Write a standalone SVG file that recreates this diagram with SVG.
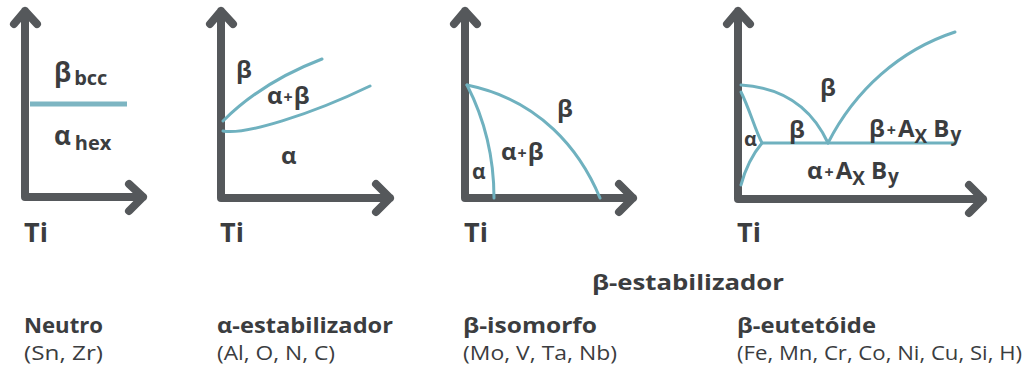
<svg xmlns="http://www.w3.org/2000/svg" width="1033" height="374" viewBox="0 0 1033 374">
<style>
.ax{fill:none;stroke:#55585b;stroke-width:8;stroke-linecap:round;stroke-linejoin:round}
.ln{fill:none;stroke:#6fb1bf;stroke-width:3;stroke-linecap:round}
.t{font-family:"Open Sans","Noto Sans",sans-serif;font-weight:bold;fill:#3b3d3f}
.lb{font-size:24px}
.ti{font-size:27px}
.n{font-family:"Open Sans","Noto Sans",sans-serif;font-size:20px;fill:#3b3d3f}
.h{font-size:21px}
.pl{font-size:16px}
.sb{font-size:19px}
</style>
<rect width="1033" height="374" fill="#ffffff"/>
<g id="panel-neutro">
<path class="ax" d="M25,197 V11 M14,24 L25,11 L37,24 M25,197 H143 M129,184 L143,197 L129,211"/>
<path d="M30,104 H127" fill="none" stroke="#7db5c2" stroke-width="5"/>
<text class="t" font-size="26" x="54" y="82">β<tspan font-size="20" dx="3" dy="3">bcc</tspan></text>
<text class="t" font-size="26" x="54" y="145">α<tspan font-size="20" dx="4" dy="5">hex</tspan></text>
<text class="t ti" x="24" y="242">Ti</text>
</g>
<g id="panel-alfa">
<path class="ax" d="M221,198 V11 M210,24 L221,11 L233,24 M221,198 H390 M376,184 L390,198 L376,212"/>
<path class="ln" d="M223,121 Q262,82 322,59"/>
<path class="ln" d="M223,131 C245,135 310,115 370,86"/>
<text class="t lb" x="236" y="78">β</text>
<text class="t lb" x="267" y="104">α<tspan class="pl" dx="1" dy="-1">+</tspan><tspan dx="1" dy="1">β</tspan></text>
<text class="t lb" x="281" y="164">α</text>
<text class="t ti" x="220" y="242">Ti</text>
</g>
<g id="panel-isomorfo">
<path class="ax" d="M465,198 V11 M454,24 L465,11 L477,24 M465,198 H633 M619,184 L633,198 L619,212"/>
<path class="ln" d="M467,85 C540,100 580,150 600,198"/>
<path class="ln" d="M467,85 C485,120 494,160 494,198"/>
<text class="t lb" x="557" y="117">β</text>
<text class="t lb" x="501" y="160">α<tspan class="pl" dx="1" dy="-1">+</tspan><tspan dx="1" dy="1">β</tspan></text>
<text class="t" font-size="21" x="472" y="179">α</text>
<text class="t ti" x="464" y="242">Ti</text>
</g>
<g id="panel-eutetoide">
<path class="ax" d="M738,199 V11 M727,24 L738,11 L750,24 M738,199 H983 M969,185 L983,199 L969,213"/>
<path class="ln" d="M741,85 C790,88 815,115 828,143"/>
<path class="ln" d="M828,143 C855,90 900,50 955,32"/>
<path class="ln" d="M741,92 C750,110 755,130 762,143 C752,155 745,170 741,185"/>
<path class="ln" d="M762,143 H955"/>
<text class="t lb" x="820" y="96">β</text>
<text class="t lb" x="789" y="138">β</text>
<text class="t" font-size="20" x="744" y="146">α</text>
<text class="t lb" x="869" y="137">β<tspan class="pl" dx="2" dy="-1">+</tspan><tspan dx="2" dy="1">A</tspan><tspan class="sb" dy="6">X</tspan><tspan dx="6" dy="-6">B</tspan><tspan class="sb" dx="1" dy="4">y</tspan></text>
<text class="t lb" x="807" y="179">α<tspan class="pl" dx="2" dy="-1">+</tspan><tspan dx="2" dy="1">A</tspan><tspan class="sb" dy="6">X</tspan><tspan dx="6" dy="-6">B</tspan><tspan class="sb" dx="1" dy="4">y</tspan></text>
<text class="t ti" x="737" y="242">Ti</text>
</g>
<g id="labels">
<text class="t h" x="592" y="290" textLength="192" lengthAdjust="spacingAndGlyphs">β-estabilizador</text>
<text class="t h" x="24" y="333" textLength="79" lengthAdjust="spacingAndGlyphs">Neutro</text>
<text class="n" x="24" y="360" textLength="79" lengthAdjust="spacingAndGlyphs">(Sn, Zr)</text>
<text class="t h" x="217" y="333" textLength="176" lengthAdjust="spacingAndGlyphs">α-estabilizador</text>
<text class="n" x="217" y="360" textLength="118" lengthAdjust="spacingAndGlyphs">(Al, O, N, C)</text>
<text class="t h" x="463" y="333" textLength="134" lengthAdjust="spacingAndGlyphs">β-isomorfo</text>
<text class="n" x="463" y="360" textLength="154" lengthAdjust="spacingAndGlyphs">(Mo, V, Ta, Nb)</text>
<text class="t h" x="737" y="333" textLength="139" lengthAdjust="spacingAndGlyphs">β-eutetóide</text>
<text class="n" x="737" y="360" textLength="285" lengthAdjust="spacingAndGlyphs">(Fe, Mn, Cr, Co, Ni, Cu, Si, H)</text>
</g>
</svg>
